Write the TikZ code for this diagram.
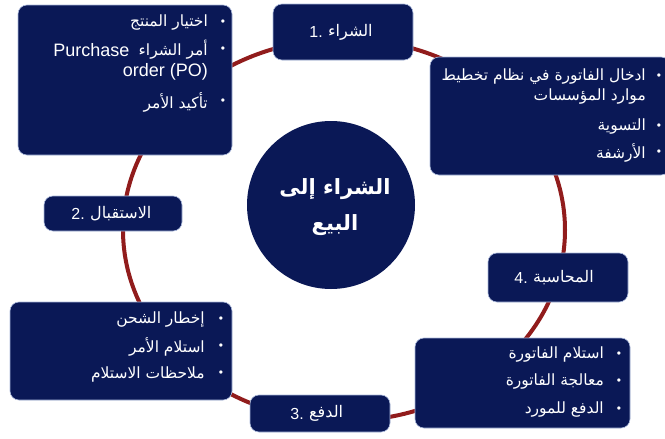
\documentclass[tikz,border=0pt]{standalone}
\usepackage{fontspec}
\setmainfont{Liberation Sans}
\newfontfamily\arfont[Script=Arabic]{DejaVu Sans}
\TeXXeTstate=1
\definecolor{navy}{RGB}{10,24,86}
\definecolor{ringred}{RGB}{145,28,28}
\definecolor{edge}{RGB}{170,185,220}
\begin{document}
\begin{tikzpicture}[x=1pt,y=-1pt,
  box/.style={draw=edge, line width=0.6pt, fill=navy, rounded corners=9pt, inner sep=0pt},
  txt/.style={text=white, font=\fontsize{15.5}{18}\selectfont, inner sep=0pt, anchor=east},
  dot/.style={text=white, font=\fontsize{12}{14}\selectfont, inner sep=0pt},
  numd/.style={text=white, font=\fontsize{16}{19}\selectfont, inner sep=0pt, anchor=east},
  numa/.style={text=white, font=\fontsize{16}{19}\selectfont, inner sep=0pt, anchor=west},
  ctr/.style={text=white, font=\fontsize{21}{26}\selectfont\bfseries, inner sep=0pt}]
\useasboundingbox (0,0) rectangle (665,439);
\fill[white] (0,0) rectangle (665,439);
% ring
\draw[ringred, line width=4pt] (344,230) ellipse [x radius=221pt, y radius=191pt];
% boxes
\node[box, minimum width=214pt, minimum height=150pt] (A) at (125,80) {};
\node[box, minimum width=140pt, minimum height=56pt] (B) at (343,32) {};
\node[box, minimum width=240pt, minimum height=118pt] (C) at (550,116) {};
\node[box, minimum width=138pt, minimum height=35pt] (D) at (113,213.5) {};
\node[box, minimum width=222pt, minimum height=98pt] (E) at (121,351) {};
\node[box, minimum width=140pt, minimum height=37pt] (F) at (320,413.5) {};
\node[box, minimum width=215pt, minimum height=90pt] (G) at (522.5,383) {};
\node[box, minimum width=140pt, minimum height=49pt] (H) at (558,277.5) {};
\node[circle, fill=navy, minimum size=168pt, inner sep=0pt] (Z) at (331,205) {};
% centre text
\node[ctr] (z1) at (335,189) {\arfont\bfseries\beginR الشراء إلى\endR};
\node[ctr] (z2) at (335,225) {\arfont\bfseries\beginR البيع\endR};
% numbered labels
\node[numd] (b1n) at (323,32) {1.};
\node[numa] (b1a) at ([xshift=5pt]b1n.east) {\arfont\beginR الشراء\endR};
\node[numd] (d1n) at (85,213.5) {2.};
\node[numa] (d1a) at ([xshift=5pt]d1n.east) {\arfont\beginR الاستقبال\endR};
\node[numd] (f1n) at (304,413.5) {3.};
\node[numa] (f1a) at ([xshift=5pt]f1n.east) {\arfont\beginR الدفع\endR};
\node[numd] (h1n) at (528,277.5) {4.};
\node[numa] (h1a) at ([xshift=5pt]h1n.east) {\arfont\beginR المحاسبة\endR};
% box A
\node[txt] (a1) at (208,23) {\arfont\beginR اختيار المنتج\endR};
\node[txt] (a2) at (208,50) {\arfont\beginR أمر الشراء\endR};
\node[txt, font=\fontsize{18}{21}\selectfont] (a2l) at ([xshift=-9pt]a2.west) {Purchase};
\node[txt, font=\fontsize{18}{21}\selectfont] (a3) at (208,72) {order (PO)};
\node[txt] (a4) at (208,102) {\arfont\beginR تأكيد الأمر\endR};
\node[dot] (a1d) at (223,23) {•};
\node[dot] (a2d) at (223,50) {•};
\node[dot] (a4d) at (223,102) {•};
% box C
\node[txt] (c1) at (646,77) {\arfont\beginR ادخال الفاتورة في نظام تخطيط\endR};
\node[txt] (c2) at (646,97) {\arfont\beginR موارد المؤسسات\endR};
\node[txt] (c3) at (646,127) {\arfont\beginR التسوية\endR};
\node[txt] (c4) at (646,153) {\arfont\beginR الأرشفة\endR};
\node[dot] (c1d) at (659,77) {•};
\node[dot] (c3d) at (659,127) {•};
\node[dot] (c4d) at (659,153) {•};
% box E
\node[txt] (e1) at (205,320) {\arfont\beginR إخطار الشحن\endR};
\node[txt] (e2) at (205,347) {\arfont\beginR استلام الأمر\endR};
\node[txt] (e3) at (205,374) {\arfont\beginR ملاحظات الاستلام\endR};
\node[dot] (e1d) at (221,320) {•};
\node[dot] (e2d) at (221,347) {•};
\node[dot] (e3d) at (221,374) {•};
% box G
\node[txt] (g1) at (604,355) {\arfont\beginR استلام الفاتورة\endR};
\node[txt] (g2) at (604,382) {\arfont\beginR معالجة الفاتورة\endR};
\node[txt] (g3) at (604,410) {\arfont\beginR الدفع للمورد\endR};
\node[dot] (g1d) at (619,355) {•};
\node[dot] (g2d) at (619,382) {•};
\node[dot] (g3d) at (619,410) {•};
\end{tikzpicture}
\end{document}
